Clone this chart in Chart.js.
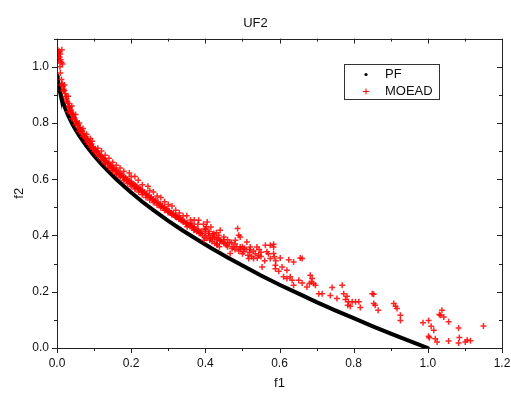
<!DOCTYPE html>
<html>
<head>
<meta charset="utf-8">
<title>UF2</title>
<script src="https://cdn.jsdelivr.net/npm/chart.js@4/dist/chart.umd.min.js"></script>
<style>
    html, body { margin: 0; padding: 0; background: #fff; }
    canvas { display: block; }
</style>
</head>
<body>
<canvas id="uf2Chart" width="511" height="396"></canvas>
<script>
// Pareto front
const pfF1 = [0.001, 0.002, 0.004, 0.006, 0.008, 0.010, 0.015, 0.020, 0.030, 0.040, 0.050, 0.060, 0.080,
    0.10, 0.12, 0.14, 0.16, 0.18, 0.20, 0.23, 0.26, 0.30, 0.34, 0.38, 0.42, 0.46, 0.50, 0.55, 0.60,
    0.65, 0.70, 0.75, 0.80, 0.85, 0.90, 0.95, 1.00];
const pfF2 = [0.968, 0.955, 0.937, 0.923, 0.911, 0.900, 0.878, 0.859, 0.827, 0.800, 0.776, 0.755, 0.717,
    0.684, 0.654, 0.626, 0.600, 0.576, 0.553, 0.520, 0.490, 0.452, 0.417, 0.384, 0.352, 0.322, 0.293, 0.258, 0.225,
    0.194, 0.163, 0.134, 0.106, 0.078, 0.051, 0.025, 0.000];

// MOEAD solutions (red crosses)
const moeadF1 = [
    // top-left cluster
    0.002, 0.004, 0.006, 0.003, 0.007, 0.005, 0.010, 0.012, 0.015, 0.008, 0.002, 0.009, 0.013,
    // dense band, upper row
    0.009, 0.012, 0.014, 0.016, 0.018, 0.020, 0.022, 0.025, 0.026, 0.028, 0.030, 0.032, 0.034, 0.036, 0.038,
    0.040, 0.042, 0.045, 0.048, 0.050, 0.053, 0.056, 0.058, 0.060, 0.063, 0.066, 0.069, 0.072, 0.075, 0.078,
    0.081, 0.085, 0.088, 0.091, 0.095, 0.098, 0.102, 0.106, 0.110, 0.114, 0.118, 0.122, 0.126, 0.130, 0.134,
    0.138, 0.142, 0.146, 0.150, 0.155, 0.160, 0.165, 0.170, 0.175, 0.180, 0.185, 0.190, 0.195, 0.200, 0.205,
    0.210, 0.215, 0.220, 0.225, 0.230, 0.236, 0.242, 0.248, 0.254, 0.260, 0.266, 0.272, 0.278, 0.284, 0.290,
    0.296, 0.302, 0.308, 0.314, 0.320, 0.326, 0.332, 0.338, 0.344, 0.350, 0.356, 0.362, 0.368, 0.374, 0.380, 0.386,
    // dense band, middle row
    0.012, 0.017, 0.023, 0.027, 0.033, 0.037, 0.043, 0.047, 0.052, 0.057, 0.062, 0.067, 0.073, 0.077, 0.083,
    0.087, 0.093, 0.097, 0.104, 0.108, 0.112, 0.116, 0.124, 0.128, 0.132, 0.136, 0.144, 0.148, 0.152, 0.158,
    0.162, 0.168, 0.172, 0.178, 0.183, 0.188, 0.193, 0.198, 0.203, 0.208, 0.213, 0.218, 0.223, 0.228, 0.233,
    0.239, 0.245, 0.251, 0.257, 0.263, 0.269, 0.275, 0.281, 0.287, 0.293, 0.299, 0.305, 0.311, 0.317, 0.323,
    0.329, 0.335, 0.341, 0.347, 0.353, 0.359, 0.365, 0.371, 0.377, 0.383, 0.392, 0.398, 0.404, 0.412, 0.418,
    0.425, 0.432, 0.438,
    // dense band, lower row
    0.030, 0.040, 0.050, 0.060, 0.070, 0.080, 0.090, 0.100, 0.110, 0.120, 0.130, 0.140, 0.150, 0.160, 0.170,
    0.180, 0.190, 0.200, 0.210, 0.220, 0.230, 0.240, 0.250, 0.260, 0.270, 0.280, 0.290, 0.300, 0.310, 0.320,
    0.330, 0.340, 0.350, 0.360, 0.370, 0.380, 0.390, 0.400, 0.410, 0.420, 0.430, 0.440, 0.450,
    // band, top edge
    0.020, 0.030, 0.040, 0.050, 0.060, 0.070, 0.080, 0.090, 0.110, 0.120, 0.140, 0.150, 0.160, 0.180, 0.200,
    0.230, 0.250, 0.270, 0.290, 0.300, 0.320, 0.340, 0.360, 0.380, 0.400,
    // band, upper strays
    0.095, 0.130, 0.170, 0.195, 0.210, 0.219, 0.245, 0.260, 0.280, 0.310, 0.330, 0.350, 0.370, 0.395, 0.415,
    0.430, 0.450, 0.460, 0.470, 0.480, 0.500, 0.510, 0.520, 0.530, 0.545, 0.550, 0.570, 0.590,
    // cluster around f1 = 0.4 .. 0.56
    0.400, 0.410, 0.420, 0.425, 0.435, 0.445, 0.450, 0.455, 0.460, 0.465, 0.475, 0.480, 0.485, 0.490, 0.495,
    0.500, 0.505, 0.515, 0.520, 0.525, 0.535, 0.540, 0.550, 0.560,
    // scattered middle
    0.337, 0.351, 0.364, 0.369, 0.382, 0.387, 0.396, 0.403, 0.405, 0.409, 0.414, 0.423, 0.431, 0.436, 0.440,
    0.440, 0.458, 0.467, 0.472, 0.481, 0.487, 0.490, 0.494, 0.494, 0.503, 0.512, 0.517, 0.521, 0.530, 0.539,
    0.544, 0.553, 0.562, 0.566, 0.575, 0.575, 0.584, 0.584, 0.584, 0.586, 0.589, 0.589, 0.598, 0.602, 0.607,
    0.611, 0.620, 0.620, 0.625, 0.629, 0.634, 0.638, 0.638, 0.652, 0.656, 0.661, 0.661, 0.674, 0.681, 0.683,
    0.686, 0.688, 0.692, 0.697, 0.706, 0.715, 0.737, 0.742, 0.755, 0.769, 0.773, 0.778, 0.782, 0.784, 0.786,
    0.791, 0.796, 0.805, 0.814, 0.818, 0.850, 0.854, 0.854, 0.858, 0.866, 0.908, 0.913, 0.917, 0.926, 0.926,
    // tail beyond f1 = 1
    0.987, 1.002, 1.009, 1.016, 1.002, 1.004, 1.020, 1.025, 1.031, 1.034, 1.038, 1.043, 1.056, 1.056, 1.083,
    1.085, 1.083, 1.101, 1.106, 1.115, 1.150
];
const moeadF2 = [
    1.060, 1.050, 1.055, 1.040, 1.035, 1.020, 1.025, 1.015, 1.010, 1.000, 1.030, 1.045, 1.060,
    0.978, 0.955, 0.940, 0.930, 0.920, 0.915, 0.905, 0.895, 0.885, 0.875, 0.870, 0.860, 0.855, 0.848, 0.840,
    0.835, 0.828, 0.820, 0.812, 0.805, 0.800, 0.792, 0.785, 0.780, 0.775, 0.770, 0.762, 0.755, 0.750, 0.745,
    0.740, 0.735, 0.728, 0.722, 0.715, 0.710, 0.705, 0.700, 0.693, 0.687, 0.682, 0.678, 0.672, 0.667, 0.662,
    0.657, 0.652, 0.647, 0.642, 0.637, 0.632, 0.626, 0.620, 0.615, 0.610, 0.605, 0.600, 0.595, 0.590, 0.585,
    0.580, 0.575, 0.570, 0.565, 0.560, 0.555, 0.548, 0.542, 0.536, 0.530, 0.525, 0.518, 0.512, 0.506, 0.500,
    0.494, 0.488, 0.482, 0.477, 0.472, 0.466, 0.461, 0.456, 0.450, 0.445, 0.440, 0.434, 0.428, 0.422, 0.416, 0.410,
    0.935, 0.915, 0.893, 0.878, 0.858, 0.845, 0.830, 0.818, 0.806, 0.795, 0.783, 0.774, 0.762, 0.752, 0.742,
    0.733, 0.725, 0.716, 0.706, 0.698, 0.690, 0.684, 0.674, 0.666, 0.660, 0.655, 0.645, 0.640, 0.634, 0.628,
    0.622, 0.617, 0.612, 0.606, 0.600, 0.596, 0.590, 0.585, 0.580, 0.576, 0.570, 0.566, 0.562, 0.556, 0.552,
    0.546, 0.540, 0.534, 0.528, 0.522, 0.516, 0.510, 0.504, 0.498, 0.492, 0.486, 0.480, 0.476, 0.470, 0.464,
    0.459, 0.453, 0.448, 0.443, 0.437, 0.432, 0.427, 0.420, 0.414, 0.408, 0.400, 0.395, 0.390, 0.384, 0.379,
    0.372, 0.366, 0.360,
    0.840, 0.815, 0.795, 0.770, 0.752, 0.732, 0.715, 0.698, 0.682, 0.668, 0.655, 0.642, 0.630, 0.618, 0.607,
    0.595, 0.585, 0.574, 0.565, 0.555, 0.545, 0.535, 0.526, 0.517, 0.508, 0.499, 0.490, 0.482, 0.474, 0.466,
    0.458, 0.450, 0.443, 0.436, 0.430, 0.422, 0.415, 0.408, 0.400, 0.393, 0.386, 0.380, 0.372,
    0.935, 0.895, 0.860, 0.830, 0.800, 0.780, 0.760, 0.745, 0.710, 0.700, 0.675, 0.660, 0.650, 0.628, 0.610,
    0.580, 0.560, 0.540, 0.520, 0.510, 0.490, 0.470, 0.455, 0.440, 0.425,
    0.735, 0.685, 0.640, 0.622, 0.610, 0.596, 0.575, 0.555, 0.535, 0.505, 0.480, 0.470, 0.455, 0.440, 0.430,
    0.410, 0.395, 0.385, 0.375, 0.370, 0.360, 0.350, 0.340, 0.345, 0.350, 0.325, 0.335, 0.310,
    0.420, 0.415, 0.405, 0.395, 0.390, 0.378, 0.385, 0.370, 0.360, 0.375, 0.360, 0.350, 0.360, 0.345, 0.350,
    0.335, 0.355, 0.330, 0.350, 0.325, 0.335, 0.320, 0.340, 0.310,
    0.454, 0.431, 0.443, 0.419, 0.454, 0.407, 0.383, 0.431, 0.448, 0.407, 0.389, 0.407, 0.371, 0.401, 0.419,
    0.383, 0.365, 0.336, 0.354, 0.383, 0.425, 0.401, 0.395, 0.359, 0.342, 0.377, 0.318, 0.359, 0.318, 0.359,
    0.330, 0.288, 0.365, 0.342, 0.365, 0.318, 0.369, 0.359, 0.336, 0.324, 0.294, 0.282, 0.273, 0.320, 0.288,
    0.253, 0.247, 0.276, 0.314, 0.253, 0.241, 0.223, 0.306, 0.241, 0.320, 0.318, 0.231, 0.217, 0.229, 0.259,
    0.235, 0.247, 0.229, 0.223, 0.193, 0.193, 0.187, 0.215, 0.176, 0.223, 0.193, 0.172, 0.184, 0.152, 0.164,
    0.148, 0.164, 0.164, 0.164, 0.144, 0.193, 0.191, 0.158, 0.152, 0.134, 0.158, 0.148, 0.140, 0.116, 0.098,
    0.090, 0.098, 0.077, 0.063, 0.042, 0.036, 0.033, 0.021, 0.119, 0.116, 0.134, 0.110, 0.093, 0.025, 0.071,
    0.037, 0.018, 0.021, 0.028, 0.026, 0.078
];

const xTicks = [0, 0.1, 0.2, 0.3, 0.4, 0.5, 0.6, 0.7, 0.8, 0.9, 1.0, 1.1, 1.2];
const yTicks = [0, 0.1, 0.2, 0.3, 0.4, 0.5, 0.6, 0.7, 0.8, 0.9, 1.0, 1.1];

const FONT = '"Liberation Sans", Arial, sans-serif';

function toPoints(xs, ys) {
    return xs.map((x, i) => ({ x: x, y: ys[i] }));
}

function isMajor(v) {
    return Math.abs(v * 5 - Math.round(v * 5)) < 1e-6;
}

// frame + Origin-like ticks (out on bottom/left, in on top/right)
const framePlugin = {
    id: 'frame',
    afterDatasetsDraw(chart) {
        const { ctx, chartArea: a, scales: { x, y } } = chart;
        ctx.save();
        ctx.strokeStyle = '#222';
        ctx.lineWidth = 1;
        ctx.strokeRect(Math.round(a.left) + 0.5, Math.round(a.top) + 0.5,
            Math.round(a.right - a.left), Math.round(a.bottom - a.top));
        ctx.beginPath();
        xTicks.forEach(v => {
            const px = Math.round(x.getPixelForValue(v)) + 0.5;
            const len = isMajor(v) ? 5 : 3;
            ctx.moveTo(px, a.bottom);
            ctx.lineTo(px, a.bottom + len);
            ctx.moveTo(px, a.top);
            ctx.lineTo(px, a.top + len);
        });
        yTicks.forEach(v => {
            const py = Math.round(y.getPixelForValue(v)) + 0.5;
            const len = isMajor(v) ? 5 : 3;
            ctx.moveTo(a.left, py);
            ctx.lineTo(a.left - len, py);
            ctx.moveTo(a.right, py);
            ctx.lineTo(a.right - len, py);
        });
        ctx.stroke();
        ctx.restore();
    }
};

// boxed legend inside the plot, top right
const legendPlugin = {
    id: 'boxLegend',
    afterDraw(chart) {
        const { ctx } = chart;
        const bx = 344, by = 64, bw = 95, bh = 35;
        ctx.save();
        ctx.fillStyle = '#fff';
        ctx.fillRect(bx, by, bw, bh);
        ctx.strokeStyle = '#333';
        ctx.lineWidth = 1;
        ctx.strokeRect(bx + 0.5, by + 0.5, bw, bh);

        // PF dot
        ctx.fillStyle = '#000';
        ctx.beginPath();
        ctx.arc(366, 74.5, 1.6, 0, Math.PI * 2);
        ctx.fill();

        // MOEAD cross
        ctx.strokeStyle = '#f00';
        ctx.beginPath();
        ctx.moveTo(363, 91.5);
        ctx.lineTo(369, 91.5);
        ctx.moveTo(366, 88.5);
        ctx.lineTo(366, 94.5);
        ctx.stroke();

        ctx.fillStyle = '#111';
        ctx.font = '13px ' + FONT;
        ctx.textBaseline = 'middle';
        ctx.fillText('PF', 385, 74.5);
        ctx.fillText('MOEAD', 385, 91.5);
        ctx.restore();
    }
};

const ctx = document.getElementById('uf2Chart').getContext('2d');

new Chart(ctx, {
    type: 'scatter',
    data: {
        datasets: [
            {
                label: 'PF',
                data: toPoints(pfF1, pfF2),
                showLine: true,
                borderColor: '#000',
                backgroundColor: '#000',
                borderWidth: 4,
                pointRadius: 0,
                borderCapStyle: 'round',
                order: 1
            },
            {
                label: 'MOEAD',
                data: toPoints(moeadF1, moeadF2),
                pointStyle: 'cross',
                pointRadius: 3,
                pointBorderWidth: 1.5,
                borderColor: 'rgba(255, 0, 0, 0.85)',
                backgroundColor: 'rgba(255, 0, 0, 0.85)',
                order: 0
            }
        ]
    },
    options: {
        responsive: false,
        animation: false,
        devicePixelRatio: 1,
        layout: { padding: { left: 0, right: 0, top: 0, bottom: 0 } },
        plugins: {
            legend: { display: false },
            tooltip: { enabled: false },
            title: {
                display: true,
                text: 'UF2',
                color: '#111',
                font: { family: FONT, size: 13, weight: 'normal' },
                padding: { top: 16, bottom: 7 }
            }
        },
        scales: {
            x: {
                type: 'linear',
                min: 0,
                max: 1.2,
                grid: { display: false, drawTicks: false },
                border: { display: false },
                ticks: {
                    stepSize: 0.2,
                    padding: 8,
                    color: '#111',
                    font: { family: FONT, size: 12 },
                    maxRotation: 0,
                    callback: v => isMajor(v) ? v.toFixed(1) : ''
                },
                title: {
                    display: true,
                    text: 'f1',
                    color: '#111',
                    font: { family: FONT, size: 13 },
                    padding: { top: 0, bottom: 5 }
                },
                afterFit: scale => {
                    scale.height = 48;
                    // leave ~9px on the right like the original
                    scale.paddingLeft = 0;
                    scale.paddingRight = 9;
                }
            },
            y: {
                type: 'linear',
                min: 0,
                max: 1.1,
                grid: { display: false, drawTicks: false },
                border: { display: false },
                ticks: {
                    stepSize: 0.2,
                    padding: 8,
                    color: '#111',
                    font: { family: FONT, size: 12 },
                    callback: v => isMajor(v) ? v.toFixed(1) : ''
                },
                title: {
                    display: true,
                    text: 'f2',
                    color: '#111',
                    font: { family: FONT, size: 13 },
                    padding: { top: 12, bottom: 0 }
                },
                afterFit: scale => { scale.width = 57; }
            }
        }
    },
    plugins: [framePlugin, legendPlugin]
});
</script>
</body>
</html>
